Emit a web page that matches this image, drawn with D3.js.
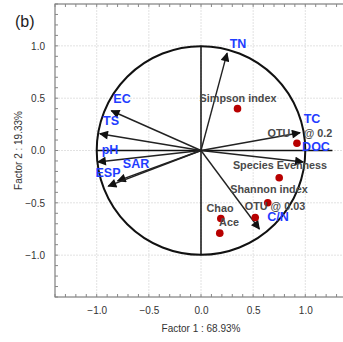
<!DOCTYPE html>
<html><head><meta charset="utf-8">
<script src="https://cdn.jsdelivr.net/npm/d3@7"></script>
<style>body{margin:0;background:#fff}</style>
</head><body>
<svg id="c" width="343" height="342"></svg>
<script>
const vectorNames = ["TN","EC","TS","pH","SAR","ESP","TC","DOC","C/N"];
const vectorX = [0.25,-0.86,-0.97,-0.99,-0.80,-0.89,0.95,0.98,0.56];
const vectorY = [0.93,0.38,0.16,-0.11,-0.29,-0.34,0.17,-0.11,-0.75];
const pointNames = ["Simpson index","OTU @ 0.2","Species Evenness","Shannon index","OTU @ 0.03","Chao","Ace"];
const pointX = [0.35,0.92,0.75,0.64,0.52,0.19,0.18];
const pointY = [0.40,0.07,-0.26,-0.50,-0.64,-0.65,-0.79];
const tickValues = [-1.0,-0.5,0.0,0.5,1.0];
const xTitle = "Factor 1 : 68.93%";
const yTitle = "Factor 2 : 19.33%";
const panel = "(b)";

const svg = d3.select("#c");
const L=55, T=4, R=347, B=297;
const x = d3.scaleLinear().domain([-1.4,1.4]).range([L,R]);
const y = d3.scaleLinear().domain([-1.4,1.4]).range([B,T]);
const font = "Liberation Sans, Arial, sans-serif";

// grid
const g = svg.append("g");
tickValues.forEach(v=>{
  g.append("line").attr("x1",x(v)).attr("x2",x(v)).attr("y1",T).attr("y2",B).attr("stroke","#e2e2e2").attr("stroke-dasharray","2,1");
  g.append("line").attr("y1",y(v)).attr("y2",y(v)).attr("x1",L).attr("x2",R).attr("stroke","#e2e2e2").attr("stroke-dasharray","2,1");
});
// frame
svg.append("rect").attr("x",L).attr("y",T).attr("width",R-L).attr("height",B-T).attr("fill","none").attr("stroke","#666").attr("stroke-width",1);
// minor ticks
const minor = d3.range(-14,15).map(i=>i/10);
minor.forEach(v=>{
  svg.append("line").attr("x1",x(v)).attr("x2",x(v)).attr("y1",B).attr("y2",B-3).attr("stroke","#888");
  svg.append("line").attr("x1",x(v)).attr("x2",x(v)).attr("y1",T).attr("y2",T+3).attr("stroke","#888");
  svg.append("line").attr("y1",y(v)).attr("y2",y(v)).attr("x1",L).attr("x2",L+3).attr("stroke","#888");
});
// axes with tick labels
const xa = svg.append("g").attr("transform",`translate(0,${B})`).call(d3.axisBottom(x).tickValues(tickValues).tickFormat(d3.format(".1f")).tickSize(0).tickPadding(10));
xa.select(".domain").remove();
xa.selectAll("text").attr("font-family",font).attr("font-size",10).attr("fill","#333");
const ya = svg.append("g").attr("transform",`translate(${L},0)`).call(d3.axisLeft(y).tickValues(tickValues).tickFormat(d3.format(".1f")).tickSize(0).tickPadding(10));
ya.select(".domain").remove();
ya.selectAll("text").attr("font-family",font).attr("font-size",10).attr("fill","#333");

svg.append("text").attr("x",x(0)).attr("y",332).attr("text-anchor","middle").attr("font-family",font).attr("font-size",10).attr("fill","#333").text(xTitle);
svg.append("text").attr("transform",`translate(22,${y(0)}) rotate(-90)`).attr("text-anchor","middle").attr("font-family",font).attr("font-size",10).attr("fill","#333").text(yTitle);
svg.append("text").attr("x",15).attr("y",27).attr("font-family",font).attr("font-size",16).attr("fill","#222").text(panel);

// circle and axes lines
svg.append("circle").attr("cx",x(0)).attr("cy",y(0)).attr("r",x(1)-x(0)).attr("fill","none").attr("stroke","#111").attr("stroke-width",2);
svg.append("line").attr("x1",x(0)).attr("x2",x(0)).attr("y1",y(1)).attr("y2",y(-1)).attr("stroke","#111").attr("stroke-width",1.5);
svg.append("line").attr("x1",x(-1)).attr("x2",x(1.26)).attr("y1",y(0)).attr("y2",y(0)).attr("stroke","#111").attr("stroke-width",1.5);

// arrow marker
svg.append("defs").append("marker").attr("id","ah").attr("viewBox","0 0 10 10").attr("refX",9).attr("refY",5)
  .attr("markerWidth",10).attr("markerHeight",9).attr("markerUnits","userSpaceOnUse").attr("orient","auto")
  .append("path").attr("d","M0,0L10,5L0,10Z").attr("fill","#111");

vectorNames.forEach((n,i)=>{
  svg.append("line").attr("x1",x(0)).attr("y1",y(0)).attr("x2",x(vectorX[i])).attr("y2",y(vectorY[i]))
    .attr("stroke","#222").attr("stroke-width",1.4).attr("marker-end","url(#ah)");
});

// points
pointNames.forEach((n,i)=>{
  svg.append("circle").attr("cx",x(pointX[i])).attr("cy",y(pointY[i])).attr("r",3.8).attr("fill","#b80000");
});
// point labels (OTU @ 0.2 drawn in two pieces around the arrowhead)
const pLabelPos = [[238,102],[null,137],[280,169],[269,193],[275,210],[220,212],[229,226]];
pointNames.forEach((n,i)=>{
  const t = svg.append("text").attr("y",pLabelPos[i][1]).attr("text-anchor","middle")
    .attr("font-family",font).attr("font-size",10.8).attr("font-weight","bold").attr("fill","#4a4a4a");
  if (n === "OTU @ 0.2") {
    const parts = n.split(" @ ");
    t.append("tspan").attr("x",279).text(parts[0]);
    t.append("tspan").attr("x",318).text("@ " + parts[1]);
  } else {
    t.attr("x",pLabelPos[i][0]).text(n);
  }
});
// vector labels
const vLabelPos = [[238,48],[122,103],[111,125],[110,154],[136,168],[108,177],[312,123],[316,151],[278,221]];
vectorNames.forEach((n,i)=>{
  svg.append("text").attr("x",vLabelPos[i][0]).attr("y",vLabelPos[i][1]).attr("text-anchor","middle")
    .attr("font-family",font).attr("font-size",12.5).attr("font-weight","bold").attr("fill","#1f3dff").text(n);
});
</script>
</body></html>
